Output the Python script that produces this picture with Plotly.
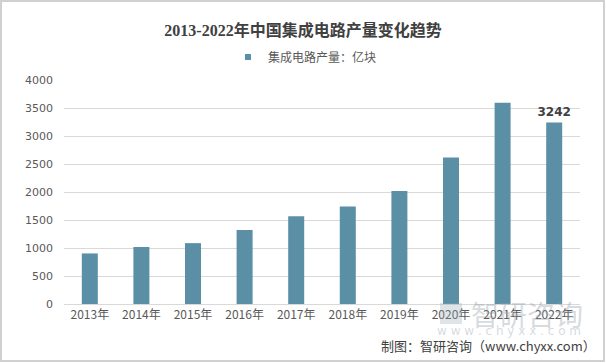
import plotly.graph_objects as go

years = ["2013年", "2014年", "2015年", "2016年", "2017年", "2018年", "2019年", "2020年", "2021年", "2022年"]
output = [903, 1016, 1087, 1320, 1565, 1740, 2018, 2614, 3594, 3242]
labels = ["", "", "", "", "", "", "", "", "", "3242"]
y_ticks = [0, 500, 1000, 1500, 2000, 2500, 3000, 3500, 4000]
series_name = "集成电路产量：亿块"
bar_color = "#5B8FA6"

fig = go.Figure()
fig.add_trace(go.Bar(
    x=years, y=output, name=series_name, showlegend=False,
    marker=dict(color=bar_color, line=dict(width=0)),
    width=0.31,
    text=labels, textposition="outside", cliponaxis=False, constraintext="none",
    texttemplate="<b>%{text}</b>",
    textfont=dict(family="DejaVu Sans, Noto Sans CJK SC", size=12, color="#404040"),
    hoverinfo="skip",
))
# legend entry with small square marker
fig.add_trace(go.Scatter(
    x=[None], y=[None], mode="markers", name=series_name,
    marker=dict(symbol="square", size=6, color=bar_color),
))

fig.update_layout(
    width=606, height=363,
    margin=dict(l=64, r=26, t=80, b=59, autoexpand=False),
    paper_bgcolor="white", plot_bgcolor="white",
    title=dict(text="<b>2013-2022年中国集成电路产量变化趋势</b>", x=0.5, xanchor="center",
               y=1 - 30 / 363, yanchor="middle",
               font=dict(family="Liberation Serif, Noto Sans CJK SC", size=16, color="#404040")),
    showlegend=True,
    legend=dict(orientation="h", x=0.467, xanchor="center", y=1 - 57 / 363, yanchor="middle",
                yref="container",
                font=dict(family="Noto Sans CJK SC", size=12, color="#595959"),
                itemwidth=30, bgcolor="rgba(0,0,0,0)"),
    xaxis=dict(showgrid=False, showline=True, linecolor="#D9D9D9", linewidth=1,
               ticks="", tickfont=dict(family="Noto Sans CJK SC", size=12, color="#595959")),
    yaxis=dict(range=[0, 4000], tickvals=y_ticks, showgrid=True, gridcolor="#D9D9D9",
               gridwidth=1, zeroline=False, showline=False,
               ticks="", ticklabelstandoff=10,
               tickfont=dict(family="DejaVu Sans, Noto Sans CJK SC", size=11, color="#595959")),
    font=dict(family="Noto Sans CJK SC"),
)

# faint watermark logo
fig.add_shape(type="rect", xref="paper", yref="paper",
              x0=(440 - 64) / 516, x1=(462 - 64) / 516,
              y0=(304 - 324) / 224, y1=(304 - 303) / 224,
              line=dict(width=0), fillcolor="rgba(150,165,180,0.3)", layer="above")
fig.add_annotation(text="智研咨询", xref="paper", yref="paper", x=(527 - 64) / 516, y=(304 - 314) / 224,
                   xanchor="center", yanchor="middle", showarrow=False,
                   font=dict(family="Noto Sans CJK SC", size=28, color="rgba(150,160,170,0.4)"))
fig.add_annotation(text="w w w . c h y x x . c o m", xref="paper", yref="paper",
                   x=(509 - 64) / 516, y=(304 - 331) / 224,
                   xanchor="center", yanchor="middle", showarrow=False,
                   font=dict(family="DejaVu Sans", size=12, color="rgba(150,160,170,0.4)"))
# source note
fig.add_annotation(text="制图：智研咨询（www.chyxx.com）", xref="paper", yref="paper",
                   x=1.035, y=-0.185, xanchor="right", yanchor="middle", showarrow=False,
                   font=dict(family="Noto Sans CJK SC", size=13, color="#404040"))
# frame
fig.add_shape(type="rect", xref="paper", yref="paper",
              x0=(1 - 64) / 516, x1=(604 - 64) / 516,
              y0=(304 - 361) / 224, y1=(304 - 1) / 224,
              line=dict(color="#D0D0D0", width=2), fillcolor="rgba(0,0,0,0)", layer="below")

fig.write_html("out.html", config={"displayModeBar": False},
               post_script="document.body.style.margin='0';")
